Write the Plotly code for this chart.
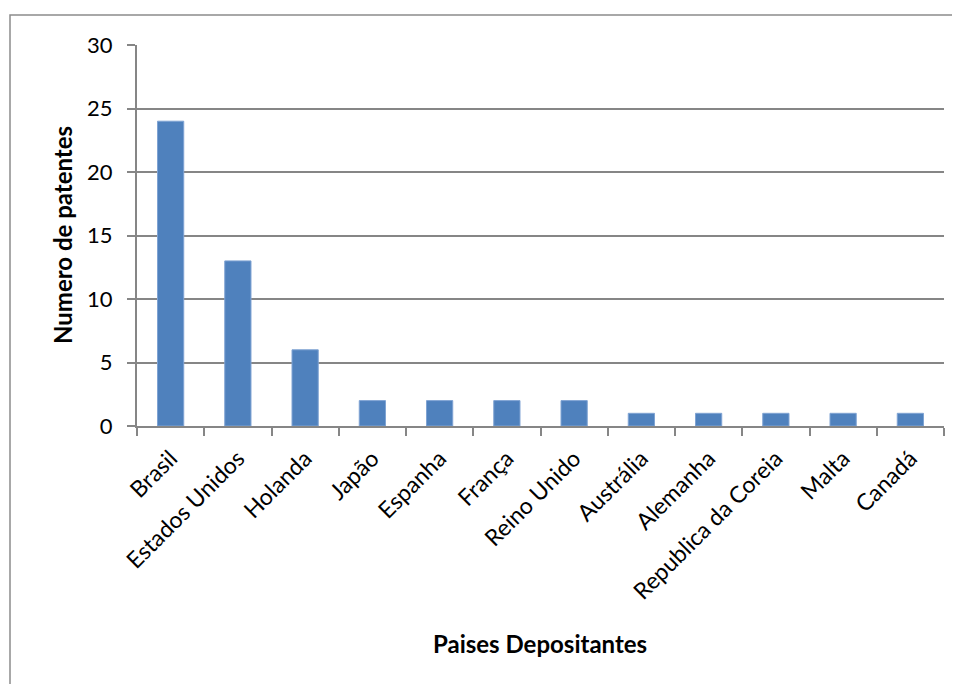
import plotly.graph_objects as go

categories = ["Brasil", "Estados Unidos", "Holanda", "Japão", "Espanha", "França",
              "Reino Unido", "Austrália", "Alemanha", "Republica da Coreia", "Malta", "Canadá"]
values = [24, 13, 6, 2, 2, 2, 2, 1, 1, 1, 1, 1]
y_ticks = [0, 5, 10, 15, 20, 25, 30]

FONT = "Lato"
OFF = 8  # page body margin
W, H = 960 - OFF, 684 - OFF
L, T = 137 - OFF, 45 - OFF
R = W - (944 - OFF)
B = H - (426 - OFF)
pw = W - L - R
ph = H - T - B

def px_x(px):
    return (px - OFF - L) / pw

def px_y(py):
    return (H - B - (py - OFF)) / ph

fig = go.Figure(go.Bar(
    x=categories, y=values,
    marker=dict(color="#4F81BD", line=dict(color="#7FA3D3", width=1)),
))

fig.update_layout(
    width=W, height=H,
    margin=dict(l=L, r=R, t=T, b=B),
    paper_bgcolor="white", plot_bgcolor="white",
    bargap=0.61,
    showlegend=False,
    font=dict(family=FONT, color="black"),
    xaxis=dict(
        type="category", tickangle=-45, tickson="boundaries",
        ticks="outside", ticklen=8, tickcolor="#868686", tickwidth=2,
        showline=True, linecolor="#868686", linewidth=2,
        showgrid=False, tickfont=dict(size=23, family=FONT),
        ticklabelstandoff=8,
    ),
    yaxis=dict(
        range=[0, 30], tickvals=y_ticks,
        ticks="outside", ticklen=8, tickcolor="#868686", tickwidth=2,
        showline=True, linecolor="#868686", linewidth=2,
        showgrid=True, gridcolor="#868686", gridwidth=1.5,
        zeroline=False, tickfont=dict(size=22, family=FONT),
        ticklabelstandoff=10,
    ),
    shapes=[dict(type="rect", xref="paper", yref="paper",
                 x0=px_x(10), x1=px_x(975), y0=px_y(700), y1=px_y(15),
                 line=dict(color="#8C8C8C", width=1.5), fillcolor="rgba(0,0,0,0)",
                 layer="below")],
    annotations=[
        dict(text="<b>Numero de patentes</b>", xref="paper", yref="paper",
             x=px_x(62), y=px_y(235), showarrow=False, textangle=-90,
             font=dict(size=24, family=FONT), xanchor="center", yanchor="middle"),
        dict(text="<b>Paises Depositantes</b>", xref="paper", yref="paper",
             x=px_x(540), y=px_y(643), showarrow=False,
             font=dict(size=24, family=FONT), xanchor="center", yanchor="middle"),
    ],
)

fig.write_html("out.html")
